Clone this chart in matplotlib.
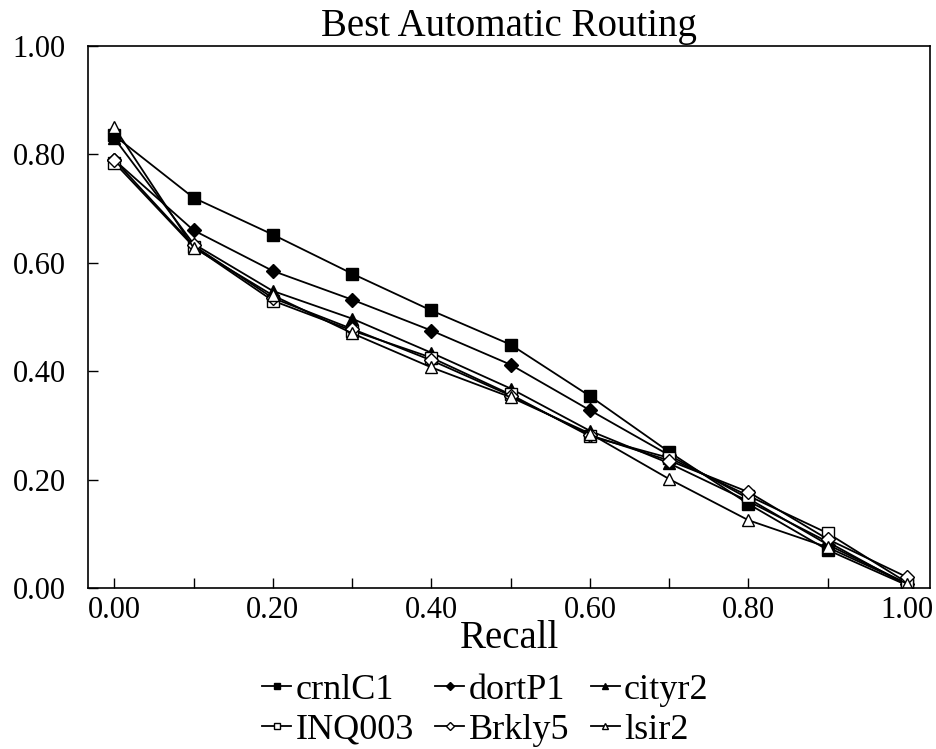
import numpy as np
import matplotlib.pyplot as plt
from matplotlib.ticker import MultipleLocator, FormatStrFormatter

plt.rcParams["font.family"] = ["Liberation Serif", "DejaVu Serif"]

recall = [0.0, 0.1, 0.2, 0.3, 0.4, 0.5, 0.6, 0.7, 0.8, 0.9, 1.0]

crnlC1 = [0.835, 0.72, 0.652, 0.58, 0.512, 0.449, 0.354, 0.251, 0.155, 0.070, 0.005]
dortP1 = [0.790, 0.66, 0.585, 0.532, 0.475, 0.412, 0.328, 0.245, 0.165, 0.080, 0.008]
cityr2 = [0.830, 0.635, 0.548, 0.497, 0.434, 0.368, 0.290, 0.230, 0.160, 0.085, 0.005]
INQ003 = [0.785, 0.630, 0.530, 0.475, 0.425, 0.357, 0.280, 0.240, 0.170, 0.101, 0.010]
Brkly5 = [0.790, 0.632, 0.535, 0.478, 0.420, 0.355, 0.282, 0.235, 0.177, 0.090, 0.020]
lsir2 = [0.850, 0.628, 0.540, 0.470, 0.407, 0.352, 0.285, 0.201, 0.125, 0.075, 0.008]

names = ["crnlC1", "dortP1", "cityr2", "INQ003", "Brkly5", "lsir2"]
series = [crnlC1, dortP1, cityr2, INQ003, Brkly5, lsir2]
markers = ["s", "D", "^", "s", "D", "^"]
filled = [True, True, True, False, False, False]

fig = plt.figure(figsize=(9.37, 7.49), dpi=100)
ax = fig.add_axes([0.094, 0.215, 0.8985, 0.7236])

for name, vals, m, f in zip(names, series, markers, filled):
    ms = 7 if m == "D" else 8
    ax.plot(recall, vals, color="black", lw=1.3, marker=m, markersize=ms,
            markerfacecolor="black" if f else "white", markeredgecolor="black",
            markeredgewidth=1.0, label=name)

ax.set_xlim(-0.033, 1.029)
ax.set_ylim(0, 1.0)
ax.xaxis.set_major_locator(MultipleLocator(0.2))
ax.xaxis.set_minor_locator(MultipleLocator(0.1))
ax.yaxis.set_major_locator(MultipleLocator(0.2))
ax.xaxis.set_major_formatter(FormatStrFormatter("%.2f"))
ax.yaxis.set_major_formatter(FormatStrFormatter("%.2f"))
ax.tick_params(which="both", direction="in", top=False, right=False, labelsize=22, width=1.0)
ax.tick_params(which="major", length=7)
ax.tick_params(which="minor", length=7)
ax.tick_params(axis="x", pad=6)
ax.tick_params(axis="y", pad=16)
for sp in ax.spines.values():
    sp.set_linewidth(1.2)

ax.set_title("Best Automatic Routing", fontsize=28, pad=7)
ax.set_xlabel("Recall", fontsize=28, labelpad=-4)

# legend filled row by row, like the reference
handles, labels = ax.get_legend_handles_labels()
order = [0, 3, 1, 4, 2, 5]
fig.legend([handles[i] for i in order], [labels[i] for i in order],
           loc="center", bbox_to_anchor=(0.518, 0.052), ncol=3,
           frameon=False, fontsize=26, handlelength=0.8, handletextpad=0.12,
           columnspacing=0.6, labelspacing=0.18, markerscale=0.6)

fig.savefig("out.png", dpi=100)
